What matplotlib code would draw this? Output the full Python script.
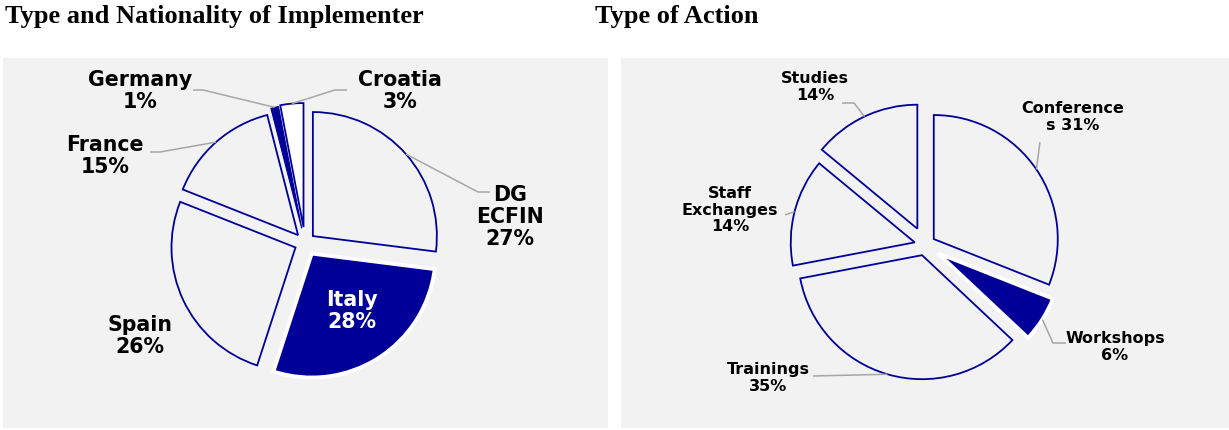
import numpy as np
import matplotlib.pyplot as plt
from matplotlib.patches import Rectangle

# data
impl_labels = ['DG\nECFIN', 'Italy', 'Spain', 'France', 'Germany', 'Croatia']
impl_values = [27, 28, 26, 15, 1, 3]
impl_explode = [10.5, 12.5, 10.5, 10.5, 15, 16]   # in px, pie radius is 124

action_labels = ['Conference\ns', 'Workshops', 'Trainings', 'Staff\nExchanges', 'Studies']
action_values = [31, 6, 35, 14, 14]
action_explode = [10.6, 15, 10.6, 10.6, 18]

NAVY = '#000099'
BG = '#F2F2F2'
GREY = '#A6A6A6'
H = 430  # figure height in px, used to flip image y coords

fig = plt.figure(figsize=(12.29, 4.30), dpi=100)
ax = fig.add_axes([0, 0, 1, 1])

# grey panels
ax.add_patch(Rectangle((3, H - 428), 605, 370, facecolor=BG, edgecolor='none', zorder=0))
ax.add_patch(Rectangle((621, H - 428), 608, 370, facecolor=BG, edgecolor='none', zorder=0))

fig.text(5 / 1229, 1 - 17 / H, 'Type and Nationality of Implementer', family='Liberation Serif',
         weight='bold', fontsize=19, va='center', ha='left')
fig.text(595 / 1229, 1 - 17 / H, 'Type of Action', family='Liberation Serif',
         weight='bold', fontsize=19, va='center', ha='left')


def draw_pie(values, explode, center, filled, white):
    wedges, _ = ax.pie(values, explode=explode, startangle=90, counterclock=False,
                       center=center, radius=124, colors=[BG] * len(values),
                       wedgeprops=dict(edgecolor=NAVY, linewidth=1.3), frame=True)
    for i in filled:
        wedges[i].set_facecolor(NAVY)
        wedges[i].set_edgecolor('white')
        wedges[i].set_linewidth(2.8)
    for i in white:
        wedges[i].set_facecolor('white')
    return wedges


def anchor(w):
    mid = np.deg2rad((w.theta1 + w.theta2) / 2)
    return w.center[0] + w.r * np.cos(mid), w.center[1] + w.r * np.sin(mid)


def leader(w, pts):
    ax_, ay_ = anchor(w)
    xs = [p[0] for p in pts] + [ax_]
    ys = [H - p[1] for p in pts] + [ay_]
    ax.plot(xs, ys, color=GREY, lw=1.1, zorder=1, solid_capstyle='butt')


# left pie
lw = draw_pie(impl_values, impl_explode, (305, H - 243), filled=[1], white=[5])
lw[4].set_facecolor(NAVY)
lw[4].set_hatch('....')
lw[4].set_linewidth(0.8)

left_pos = [(510, 217), (352, 311), (140, 336), (105, 156), (140, 91), (400, 91)]
for i, (lab, v) in enumerate(zip(impl_labels, impl_values)):
    x, y = left_pos[i]
    ax.text(x, H - y, f'{lab}\n{v}%', ha='center', va='center', fontsize=14.8,
            weight='bold', linespacing=1.15, color='white' if i == 1 else 'black',
            family='DejaVu Sans')

leader(lw[0], [(490, 192), (478, 192)])
leader(lw[3], [(150, 152), (160, 152)])
leader(lw[4], [(193, 90), (203, 90)])
leader(lw[5], [(347, 90), (335, 90)])

# right pie
rw = draw_pie(action_values, action_explode, (925, H - 245), filled=[1], white=[])

right_pos = [(1073, 117), (1115, 347), (768, 378), (730, 210), (815, 87)]
for i, (lab, v) in enumerate(zip(action_labels, action_values)):
    x, y = right_pos[i]
    txt = f'{lab} {v}%' if lab.endswith('\ns') else f'{lab}\n{v}%'
    ax.text(x, H - y, txt, ha='center', va='center', fontsize=11.5,
            weight='bold', linespacing=1.15, family='DejaVu Sans')

leader(rw[0], [(1040, 142)])
leader(rw[1], [(1066, 343), (1053, 343)])
leader(rw[2], [(813, 376)])
leader(rw[3], [(785, 215)])
leader(rw[4], [(842, 103), (854, 103)])

ax.set_xlim(0, 1229)
ax.set_ylim(0, H)
ax.set_aspect('auto')
ax.axis('off')

fig.savefig('out.png', dpi=100, facecolor='white')
